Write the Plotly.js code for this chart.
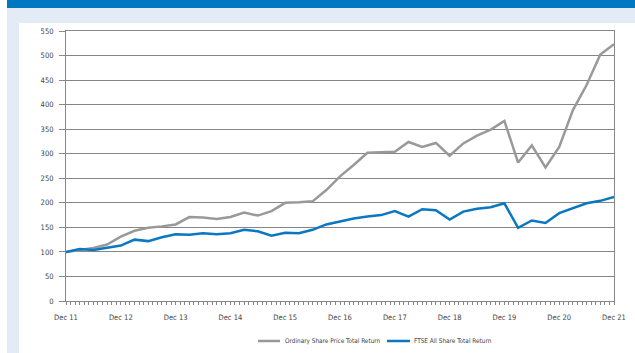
<!DOCTYPE html>
<html><head><meta charset="utf-8">
<script src="https://cdn.plot.ly/plotly-3.0.1.min.js"></script>
<style>
html,body{margin:0;padding:0;width:635px;height:353px;overflow:hidden;background:#fff;}
#hdr{position:absolute;left:7px;top:0;width:628px;height:8px;background:#0077c1;}
#bg{position:absolute;left:7px;top:8px;width:628px;height:345px;background:#e3ebf6;}
#panel{position:absolute;left:19px;top:23px;width:616px;height:330px;background:#fff;}
#chart{position:absolute;left:0;top:0;width:635px;height:353px;}
</style></head><body>
<div id="hdr"></div><div id="bg"></div><div id="panel"></div>
<div id="chart"></div>
<script>
// Quarter ends, Dec 2011 .. Dec 2021
const quarters = ['Dec 11','Mar 12','Jun 12','Sep 12','Dec 12','Mar 13','Jun 13','Sep 13','Dec 13','Mar 14','Jun 14','Sep 14','Dec 14','Mar 15','Jun 15','Sep 15','Dec 15','Mar 16','Jun 16','Sep 16','Dec 16','Mar 17','Jun 17','Sep 17','Dec 17','Mar 18','Jun 18','Sep 18','Dec 18','Mar 19','Jun 19','Sep 19','Dec 19','Mar 20','Jun 20','Sep 20','Dec 20','Mar 21','Jun 21','Sep 21','Dec 21'];
const ordinaryShare = [100,104,108,115,131,143,149,152,156,171,170,167,171,180,174,183,200,201,203,226,254,277,302,303,304,324,314,322,296,321,337,349,367,282,317,272,314,389,440,502,523];
const ftseAllShare = [100,106,104,109,113,125,122,130,136,135,138,136,138,145,142,133,139,138,145,156,162,168,172,175,183,172,187,185,166,182,188,191,199,149,164,159,179,189,199,204,212];
const tickLabels = ['Dec 11','Dec 12','Dec 13','Dec 14','Dec 15','Dec 16','Dec 17','Dec 18','Dec 19','Dec 20','Dec 21'];
const seriesNames = ['Ordinary Share Price Total Return','FTSE All Share Total Return'];
const seriesColors = ['#999999','#0a77c2'];
const tickIdx = tickLabels.map(l => quarters.indexOf(l));
const xIdx = quarters.map((q,i) => i);

const FONT = '"Liberation Sans Narrow","DejaVu Sans Condensed","Liberation Sans",sans-serif';
const data = [
  {x:xIdx, y:ordinaryShare, type:'scatter', mode:'lines', name:seriesNames[0],
   line:{color:seriesColors[0], width:2.5}},
  {x:xIdx, y:ftseAllShare, type:'scatter', mode:'lines', name:seriesNames[1],
   line:{color:seriesColors[1], width:2.5}}
];
// manual legend (paper coords; plot spans x 66..614 px, y 31..301 px)
const px = v => (v-66)/548, py = v => (301-v)/270;
const legY = 341;
const shapes = [
  {type:'line', xref:'paper', yref:'paper', x0:px(258), x1:px(280), y0:py(legY), y1:py(legY), line:{color:seriesColors[0], width:2.5}},
  {type:'line', xref:'paper', yref:'paper', x0:px(387), x1:px(410), y0:py(legY), y1:py(legY), line:{color:seriesColors[1], width:2.5}}
];
const annotations = [
  {xref:'paper', yref:'paper', x:px(283), y:py(legY), xanchor:'left', yanchor:'middle', showarrow:false, text:seriesNames[0], font:{family:FONT, size:6.4, color:'#444'}},
  {xref:'paper', yref:'paper', x:px(412), y:py(legY), xanchor:'left', yanchor:'middle', showarrow:false, text:seriesNames[1], font:{family:FONT, size:6.4, color:'#444'}}
];
const layout = {
  width:635, height:353,
  margin:{l:66, r:21, t:31, b:52, autoexpand:false},
  paper_bgcolor:'rgba(0,0,0,0)', plot_bgcolor:'#ffffff',
  font:{family:FONT, size:7.5, color:'#444'},
  showlegend:false, shapes:shapes, annotations:annotations,
  xaxis:{range:[0,40], tickvals:tickIdx, ticktext:tickLabels, ticks:'outside', ticklen:3, tickcolor:'#888',
         showgrid:false, zeroline:false, showline:true, linecolor:'#888', linewidth:1, mirror:true,
         ticklabelstandoff:6,
         minor:{dtick:1/3, ticks:'outside', ticklen:3, tickcolor:'#888', showgrid:false}},
  yaxis:{range:[0,550], dtick:50, ticks:'outside', ticklen:6, tickcolor:'#888',
         showgrid:true, gridcolor:'#858585', gridwidth:1, zeroline:false,
         showline:true, linecolor:'#888', linewidth:1, mirror:true, ticklabelstandoff:4}
};
Plotly.newPlot('chart', data, layout, {displayModeBar:false, staticPlot:true});
</script>
</body></html>
